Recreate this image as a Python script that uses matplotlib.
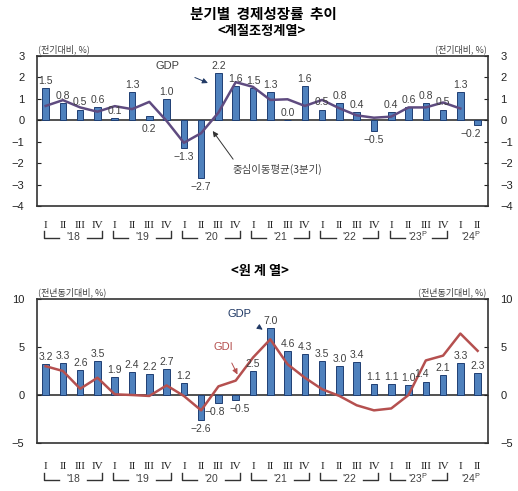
import matplotlib
matplotlib.use("Agg")
import matplotlib.pyplot as plt
import numpy as np

plt.rcParams['font.family'] = ['Liberation Sans', 'Noto Sans CJK KR', 'DejaVu Sans']
plt.rcParams['mathtext.fontset'] = 'custom'
plt.rcParams['mathtext.rm'] = 'Liberation Sans'
plt.rcParams['axes.unicode_minus'] = True

quarters = ['I', 'II', 'III', 'IV'] * 6 + ['I', 'II']
years = ["'18", "'19", "'20", "'21", "'22", "'23$^{\\mathrm{P}}$", "'24$^{\\mathrm{P}}$"]

gdp_qoq = [1.5, 0.8, 0.5, 0.6, 0.1, 1.3, 0.2, 1.0, -1.3, -2.7, 2.2, 1.6,
           1.5, 1.3, 0.0, 1.6, 0.5, 0.8, 0.4, -0.5, 0.4, 0.6, 0.8, 0.5, 1.3, -0.2]
ma3 = [0.67, 0.94, 0.6, 0.4, 0.66, 0.52, 0.86, -0.03, -1.05, -0.6, 0.36, 1.78,
       1.56, 0.95, 0.98, 0.67, 0.95, 0.56, 0.23, 0.12, 0.17, 0.6, 0.6, 0.83, 0.55]

gdp_yoy = [3.2, 3.3, 2.6, 3.5, 1.9, 2.4, 2.2, 2.7, 1.2, -2.6, -0.8, -0.5,
           2.5, 7.0, 4.6, 4.3, 3.5, 3.0, 3.4, 1.1, 1.1, 1.0, 1.4, 2.1, 3.3, 2.3]
gdi_yoy = [3.0, 2.5, 0.65, 1.8, 0.07, 0.0, -0.1, 1.0, -0.1, -1.6, 0.9, 1.5,
           3.9, 5.8, 3.2, 1.8, 0.6, -0.1, -1.07, -1.6, -1.4, 0.0, 3.6, 4.1, 6.4, 4.6]

BAR_FACE = '#4F81BD'
BAR_EDGE = '#1F3F73'
TXT = '#404040'
KR = ['Noto Sans CJK KR', 'DejaVu Sans']

W, H = 518, 491
fig = plt.figure(figsize=(W / 100, H / 100), dpi=100)

def ax_rect(l, t, r, b):
    return [l / W, 1 - b / H, (r - l) / W, (b - t) / H]

ax1 = fig.add_axes(ax_rect(37, 56, 488, 206))
ax2 = fig.add_axes(ax_rect(37, 299, 488, 443))

x = np.arange(len(quarters))

def style(ax, ylim, yticks, unit, hpx, tickpad_px, bracket_px):
    ax.set_xlim(-0.5, len(quarters) - 0.4)
    ax.set_ylim(*ylim)
    ax.set_yticks(yticks)
    ax.tick_params(axis='y', which='both', direction='in', length=3, width=0.8,
                   labelsize=8, colors='#222222', pad=9, left=True, right=True,
                   labelleft=True, labelright=True)
    ax.tick_params(axis='x', length=0, pad=tickpad_px * 0.72)
    ax.set_xticks(x)
    ax.set_xticklabels(quarters, family='Liberation Serif', fontsize=8, color='#222222')
    for s in ax.spines.values():
        s.set_color('#333333')
        s.set_linewidth(1.2)
    ax.axhline(0, color='#333333', lw=1.2, zorder=1)
    ax.text(0.003, 1.012, unit, transform=ax.transAxes, fontsize=6.5, color=TXT,
            ha='left', va='bottom', family=KR)
    ax.text(0.997, 1.012, unit, transform=ax.transAxes, fontsize=6.5, color=TXT,
            ha='right', va='bottom', family=KR)
    # year brackets
    yh = -bracket_px / hpx
    yv = -(bracket_px - 7) / hpx
    for i, yl in enumerate(years):
        x0 = 4 * i
        if i < 6:
            a, b = x0 - 0.1, x0 + 3 + 0.25
            mid = (a + b) / 2
            kw = dict(transform=ax.get_xaxis_transform(), clip_on=False,
                      color='#333333', lw=1.0)
            ax.plot([a, a, mid - 0.8], [yv, yh, yh], **kw)
            ax.plot([mid + 0.8, b, b], [yh, yh, yv], **kw)
        else:
            mid = x0 + 0.6
        ax.text(mid, yh + 1.5 / hpx, yl, transform=ax.get_xaxis_transform(),
                ha='center', va='center', fontsize=7.5, color=TXT)

def bar_labels(ax, vals, below=(), shift=None):
    shift = shift or {}
    for i, v in enumerate(vals):
        dx = shift.get(i, 0)
        if v < 0 or i in below:
            ax.annotate(f'{v:.1f}'.replace('-', '\u2212'),
                        (i, min(v, 0)), xytext=(dx, -3), textcoords='offset points',
                        ha='center', va='top', fontsize=7.5, color=TXT)
        else:
            ax.annotate(f'{v:.1f}', (i, v), xytext=(dx, 1.5), textcoords='offset points',
                        ha='center', va='bottom', fontsize=7.5, color=TXT)

# ---- top panel
style(ax1, (-4, 3), np.arange(-4, 4), '(전기대비, %)', 150, 15, 32)
ax1.bar(x, gdp_qoq, width=0.38, color=BAR_FACE, edgecolor=BAR_EDGE, lw=0.7, zorder=2)
ax1.plot(x[:len(ma3)], ma3, color='#5F4B80', lw=1.8, zorder=3)
bar_labels(ax1, gdp_qoq, below=(6,), shift={25: -5})
ax1.annotate('GDP', xy=(9.39, 1.74), xytext=(7.04, 2.54), fontsize=8, color=TXT,
             ha='center', va='center',
             arrowprops=dict(arrowstyle='-|>', color='#1F3864', lw=0.7,
                             shrinkA=10, shrinkB=0, mutation_scale=8))
ax1.annotate('중심이동평균(3분기)', xy=(9.67, -0.5), xytext=(10.8, -2.05), fontsize=7.5,
             color=TXT, ha='left', va='top', family=KR,
             arrowprops=dict(arrowstyle='-|>', color='#333333', lw=0.7,
                             shrinkA=2, shrinkB=0, mutation_scale=8,
                             relpos=(0.05, 1.0)))

# ---- bottom panel
style(ax2, (-5, 10), [-5, 0, 5, 10], '(전년동기대비, %)', 144, 19, 37)
ax2.bar(x, gdp_yoy, width=0.38, color=BAR_FACE, edgecolor=BAR_EDGE, lw=0.7, zorder=2)
ax2.plot(x, gdi_yoy, color='#B5504F', lw=1.8, zorder=3)
bar_labels(ax2, gdp_yoy, shift={10: -3, 11: 3, 22: -3})
ax2.annotate('GDP', xy=(12.56, 6.8), xytext=(11.23, 8.47), fontsize=8, color='#1F3864',
             ha='center', va='center',
             arrowprops=dict(arrowstyle='-|>', color='#1F3864', lw=0.7,
                             shrinkA=8, shrinkB=0, mutation_scale=8))
ax2.annotate('GDI', xy=(11.1, 2.14), xytext=(10.3, 5.05), fontsize=8, color='#B5504F',
             ha='center', va='center',
             arrowprops=dict(arrowstyle='-|>', color='#B5504F', lw=0.7,
                             shrinkA=7, shrinkB=0, mutation_scale=8))

# ---- titles
fig.text(263 / W, 1 - 14 / H, '분기별  경제성장률  추이', ha='center', va='center',
         fontsize=10.5, fontweight='bold', family=KR)
fig.text(262 / W, 1 - 31 / H, '<계절조정계열>', ha='center', va='center',
         fontsize=9.5, fontweight='bold', family=KR)
fig.text(260 / W, 1 - 271 / H, '<원 계 열>', ha='center', va='center',
         fontsize=9.5, fontweight='bold', family=KR)

fig.savefig('out.png', dpi=100)
